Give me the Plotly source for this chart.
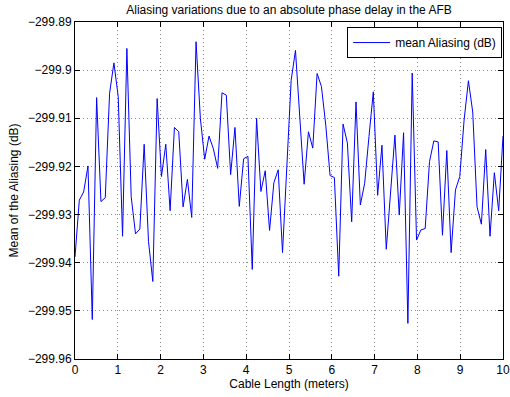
import plotly.graph_objects as go

cable_length = [
    0.0, 0.1010, 0.2020, 0.3030, 0.4040, 0.5051, 0.6061, 0.7071, 0.8081, 0.9091,
    1.0101, 1.1111, 1.2121, 1.3131, 1.4141, 1.5152, 1.6162, 1.7172, 1.8182, 1.9192,
    2.0202, 2.1212, 2.2222, 2.3232, 2.4242, 2.5253, 2.6263, 2.7273, 2.8283, 2.9293,
    3.0303, 3.1313, 3.2323, 3.3333, 3.4343, 3.5354, 3.6364, 3.7374, 3.8384, 3.9394,
    4.0404, 4.1414, 4.2424, 4.3434, 4.4444, 4.5455, 4.6465, 4.7475, 4.8485, 4.9495,
    5.0505, 5.1515, 5.2525, 5.3535, 5.4545, 5.5556, 5.6566, 5.7576, 5.8586, 5.9596,
    6.0606, 6.1616, 6.2626, 6.3636, 6.4646, 6.5657, 6.6667, 6.7677, 6.8687, 6.9697,
    7.0707, 7.1717, 7.2727, 7.3737, 7.4747, 7.5758, 7.6768, 7.7778, 7.8788, 7.9798,
    8.0808, 8.1818, 8.2828, 8.3838, 8.4848, 8.5859, 8.6869, 8.7879, 8.8889, 8.9899,
    9.0909, 9.1919, 9.2929, 9.3939, 9.4949, 9.5960, 9.6970, 9.7980, 9.8990, 10.0,
]

mean_aliasing = [
    -299.9388, -299.9270, -299.9253, -299.9199, -299.9518, -299.9057, -299.9273, -299.9265, -299.9048, -299.8985,
    -299.9055, -299.9345, -299.8955, -299.9263, -299.9340, -299.9330, -299.9154, -299.9356, -299.9439, -299.9059,
    -299.9221, -299.9154, -299.9292, -299.9119, -299.9128, -299.9284, -299.9227, -299.9306, -299.8941, -299.9100,
    -299.9185, -299.9137, -299.9163, -299.9204, -299.9047, -299.9052, -299.9217, -299.9119, -299.9283, -299.9184,
    -299.9179, -299.9414, -299.9100, -299.9252, -299.9209, -299.9333, -299.9234, -299.9207, -299.9379, -299.9183,
    -299.9021, -299.8959, -299.9093, -299.9237, -299.9128, -299.9162, -299.9007, -299.9034, -299.9114, -299.9219,
    -299.9223, -299.9428, -299.9112, -299.9151, -299.9315, -299.9066, -299.9280, -299.9235, -299.9138, -299.9045,
    -299.9260, -299.9156, -299.9372, -299.9256, -299.9135, -299.9301, -299.9130, -299.9526, -299.9006, -299.9353,
    -299.9332, -299.9329, -299.9190, -299.9147, -299.9149, -299.9343, -299.9167, -299.9379, -299.9249, -299.9221,
    -299.9104, -299.9022, -299.9087, -299.9284, -299.9320, -299.9165, -299.9345, -299.9213, -299.9292, -299.9137,
]

x_ticks = [0, 1, 2, 3, 4, 5, 6, 7, 8, 9, 10]
y_ticks = [-299.96, -299.95, -299.94, -299.93, -299.92, -299.91, -299.90, -299.89]
y_tick_labels = ["\u2212299.96", "\u2212299.95", "\u2212299.94", "\u2212299.93",
                 "\u2212299.92", "\u2212299.91", "\u2212299.9", "\u2212299.89"]

FONT = "Liberation Sans, Arial, Helvetica, sans-serif"

fig = go.Figure()
fig.add_trace(go.Scatter(
    x=cable_length, y=mean_aliasing, mode="lines",
    name="mean Aliasing (dB)",
    line=dict(color="#0000ff", width=1),
))

axis_common = dict(
    showline=True, linecolor="black", linewidth=1, mirror="ticks",
    ticks="inside", ticklen=5, tickcolor="black", tickwidth=1,
    showgrid=True, gridcolor="#888888", gridwidth=1, griddash="1px,3px",
    zeroline=False, automargin=False,
    tickfont=dict(family=FONT, size=12, color="black"),
)

fig.update_layout(
    width=510, height=397,
    margin=dict(l=75, r=7, t=22, b=38),
    paper_bgcolor="white", plot_bgcolor="white",
    font=dict(family=FONT, size=12, color="black"),
    title=dict(
        text="Aliasing variations due to an absolute phase delay in the AFB",
        x=0.5, xref="paper", y=1 - 10 / 397, yanchor="middle",
        font=dict(family=FONT, size=12, color="black"),
    ),
    xaxis=dict(
        range=[0, 10], tickvals=x_ticks, ticktext=[str(t) for t in x_ticks],
        title=dict(text="Cable Length (meters)", standoff=2,
                   font=dict(family=FONT, size=12)),
        **axis_common,
    ),
    yaxis=dict(
        range=[-299.96, -299.89], tickvals=y_ticks, ticktext=y_tick_labels,
        title=dict(text="Mean of the Aliasing (dB)", standoff=6,
                   font=dict(family=FONT, size=12)),
        **axis_common,
    ),
    showlegend=True,
    legend=dict(
        x=0.998, y=0.985, xanchor="right", yanchor="top",
        bgcolor="white", bordercolor="black", borderwidth=1,
        font=dict(family=FONT, size=12),
        itemwidth=37,
    ),
)

fig.write_html("out.html")
